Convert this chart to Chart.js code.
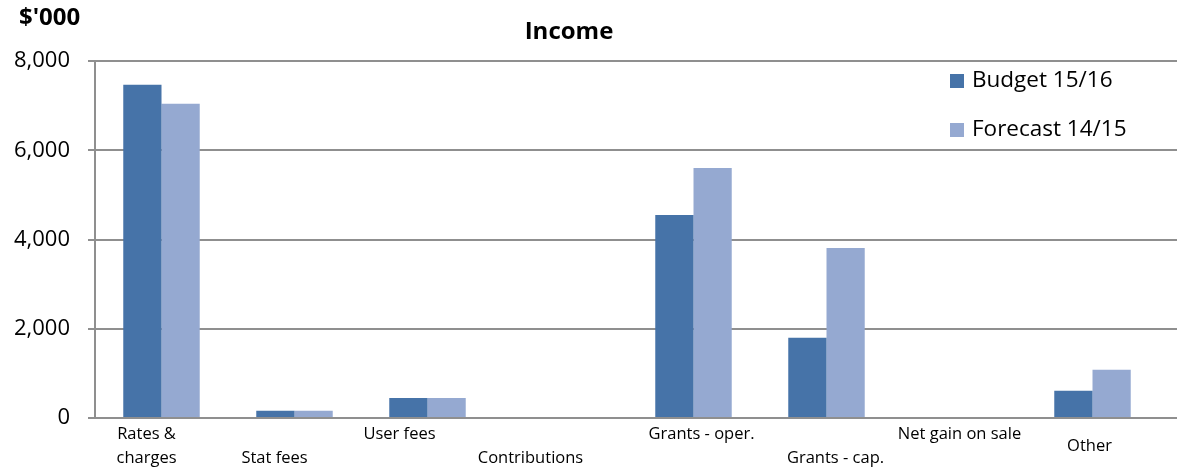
<!DOCTYPE html>
<html lang="en">
<head>
    <meta charset="UTF-8">
    <title>Income</title>
    <style>
        html, body { margin: 0; padding: 0; background: #fff; }
        #chart-container { width: 1177px; height: 470px; }
    </style>
</head>
<body>
    <div id="chart-container">
        <canvas id="incomeChart"></canvas>
    </div>
    <script src="https://cdn.jsdelivr.net/npm/chart.js"></script>
    <script>
        const categories = [
            ['Rates &', 'charges'], ['Stat fees'], ['User fees'], ['Contributions'],
            ['Grants - oper.'], ['Grants - cap.'], ['Net gain on sale'], ['Other']
        ];
        const budget1516 = [7470, 160, 450, 0, 4550, 1800, 0, 610];
        const forecast1415 = [7040, 160, 450, 0, 5600, 3810, 0, 1080];
        const yTicks = [0, 2000, 4000, 6000, 8000];

        const FONT = '"Open Sans", "Noto Sans", sans-serif';
        const GRID = '#8f8f8f';

        // staggered category labels: which line each one sits on, and a small sideways nudge
        const labelLine = [0, 1, 0, 1, 0, 1, 0, 0.5];
        const labelNudge = [-15, -20, -28, -30, 8, 9, 0, -3];

        const textPlugin = {
            id: 'textPlugin',
            beforeDatasetsDraw(chart) {
                // horizontal rules run from the value axis right out to the canvas edge
                const c = chart.ctx;
                const area = chart.chartArea;
                const ys = chart.scales.y;
                c.save();
                c.strokeStyle = GRID;
                c.lineWidth = 2;
                yTicks.forEach(v => {
                    const y = Math.round(ys.getPixelForValue(v));
                    c.beginPath();
                    c.moveTo(area.left, y);
                    c.lineTo(chart.width, y);
                    c.stroke();
                });
                c.restore();
            },
            afterDraw(chart) {
                const c = chart.ctx;
                const xs = chart.scales.x;
                c.save();
                c.fillStyle = '#000';
                c.textBaseline = 'middle';

                // title and unit
                c.font = 'bold 24px ' + FONT;
                c.textAlign = 'center';
                c.fillText('Income', 569, 32);
                c.textAlign = 'left';
                c.fillText("$'000", 19, 18);

                // category labels
                c.font = '16.5px ' + FONT;
                c.textAlign = 'center';
                categories.forEach((lines, i) => {
                    const x = xs.getPixelForValue(i) + labelNudge[i];
                    lines.forEach((txt, j) => {
                        const y = 434 + (labelLine[i] + j) * 24;
                        c.fillText(txt, x, y);
                    });
                });

                // legend
                c.font = '22.5px ' + FONT;
                c.textAlign = 'left';
                chart.data.datasets.forEach((ds, i) => {
                    const y = 81 + i * 49;
                    c.fillStyle = ds.backgroundColor;
                    c.fillRect(950, y - 7, 14, 14);
                    c.fillStyle = '#000';
                    c.fillText(ds.label, 972, y);
                });
                c.restore();
            }
        };

        const ctx = document.getElementById('incomeChart').getContext('2d');
        const chart = new Chart(ctx, {
            type: 'bar',
            data: {
                labels: categories.map(l => l.join(' ')),
                datasets: [{
                    label: 'Budget 15/16',
                    data: budget1516,
                    backgroundColor: '#4673a8'
                }, {
                    label: 'Forecast 14/15',
                    data: forecast1415,
                    backgroundColor: '#95a9d1'
                }]
            },
            options: {
                responsive: true,
                maintainAspectRatio: false,
                animation: false,
                layout: { padding: { top: 61, right: 18, left: 0, bottom: 0 } },
                datasets: {
                    bar: { categoryPercentage: 0.575, barPercentage: 1 }
                },
                plugins: {
                    legend: { display: false },
                    title: { display: false },
                    tooltip: { enabled: false }
                },
                scales: {
                    x: {
                        grid: { display: false, drawTicks: false },
                        border: { display: false },
                        ticks: { display: false },
                        afterFit: s => { s.height = 52; }
                    },
                    y: {
                        min: 0,
                        max: 8000,
                        afterBuildTicks: s => { s.ticks = yTicks.map(v => ({ value: v })); },
                        grid: { color: GRID, lineWidth: 2, tickLength: 7, drawOnChartArea: false },
                        border: { display: true, color: GRID, width: 2 },
                        ticks: {
                            color: '#000',
                            padding: 18,
                            font: { family: FONT, size: 22 },
                            callback: v => v.toLocaleString('en-US')
                        },
                        afterFit: s => { s.width = 95; }
                    }
                }
            },
            plugins: [textPlugin]
        });
    </script>
</body>
</html>
